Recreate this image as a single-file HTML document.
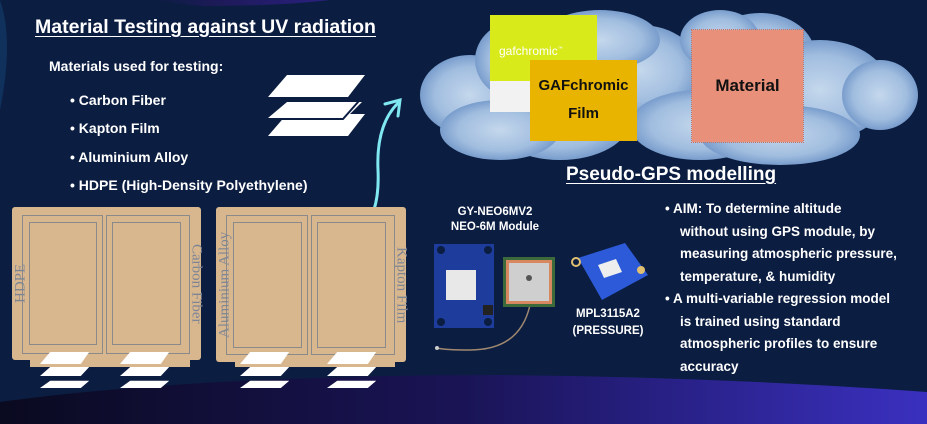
<!DOCTYPE html>
<html><head><meta charset="utf-8"><style>
*{margin:0;padding:0;box-sizing:border-box}
body{width:927px;height:424px;overflow:hidden;background:#0b1d41;font-family:"Liberation Sans",sans-serif;color:#fff;position:relative}
.a{position:absolute;white-space:nowrap}
.b{font-weight:bold}
.box{position:absolute;background:#d8b78f;border-radius:3px}
.fr{position:absolute;border:1.5px solid #8a8a8a}
.vt{position:absolute;color:#7d8594;font-family:"Liberation Serif",serif;font-size:15px;white-space:nowrap;writing-mode:vertical-rl;display:flex;align-items:center;justify-content:center}
</style></head><body>
<svg class="a" style="left:0;top:0" width="927" height="424">
<defs>
<linearGradient id="bot" x1="0" x2="1"><stop offset="0" stop-color="#0a0a20"/><stop offset="0.5" stop-color="#1a1456"/><stop offset="1" stop-color="#3a30c0"/></linearGradient>
<linearGradient id="top" x1="0" x2="1"><stop offset="0" stop-color="#0b1d41"/><stop offset="0.4" stop-color="#1e1a5a"/><stop offset="1" stop-color="#2a2080"/></linearGradient>
<radialGradient id="cl" cx="0.5" cy="0.5" r="0.5"><stop offset="0" stop-color="#cfe2f6"/><stop offset="0.7" stop-color="#a9c6e8"/><stop offset="1" stop-color="#7fa4d4"/></radialGradient>
</defs>
<path d="M150 0 L330 0 Q280 6 200 6 Z" fill="url(#top)"/>
<path d="M0 0 Q14 40 0 110 L0 0Z" fill="#12406c" opacity="0.6"/>
<path d="M0 402 Q200 375 500 375 Q720 377 927 392 L927 424 L0 424Z" fill="url(#bot)"/>
<g fill="url(#cl)" opacity="0.95">
<ellipse cx="470" cy="95" rx="50" ry="40"/><ellipse cx="520" cy="60" rx="45" ry="40"/><ellipse cx="560" cy="120" rx="70" ry="40"/>
<ellipse cx="640" cy="70" rx="60" ry="45"/><ellipse cx="700" cy="125" rx="70" ry="35"/><ellipse cx="760" cy="55" rx="55" ry="42"/>
<ellipse cx="820" cy="90" rx="70" ry="50"/><ellipse cx="880" cy="95" rx="38" ry="35"/><ellipse cx="780" cy="135" rx="80" ry="30"/>
<ellipse cx="500" cy="130" rx="60" ry="30"/><ellipse cx="600" cy="40" rx="60" ry="30"/><ellipse cx="720" cy="40" rx="40" ry="30"/>
</g>
<path d="M360 232 Q380 215 378 170 Q376 125 398 103" stroke="#7fe8f0" stroke-width="3" fill="none" stroke-linecap="round"/>
<path d="M385 104 L400 100 L398 116" stroke="#7fe8f0" stroke-width="3" fill="none" stroke-linecap="round"/>
<g fill="#fff">
<polygon points="287,75 365,75 348,97 268,97"/>
<polygon points="287,102 362,102 346,118 268,118"/>
<polygon points="287,114 365,114 348,136 268,136"/>
</g>
<path d="M268 119 L343 119 L366 93" stroke="#0b1d41" stroke-width="2" fill="none"/>
<path d="M530 305 Q520 350 470 350 Q445 350 437 348" stroke="#a08870" stroke-width="1.5" fill="none"/>
<circle cx="437" cy="348" r="2" fill="#ccc"/>
<rect x="434" y="244" width="60" height="84" fill="#1e3c9c"/>
<rect x="446" y="270" width="30" height="30" fill="#e8e8e8"/>
<circle cx="441" cy="250" r="4" fill="#0b1d41"/><circle cx="488" cy="250" r="4" fill="#0b1d41"/><circle cx="441" cy="322" r="4" fill="#0b1d41"/><circle cx="488" cy="322" r="4" fill="#0b1d41"/>
<rect x="483" y="305" width="10" height="10" fill="#222"/>
<rect x="503" y="257" width="52" height="50" fill="#3c6a3a"/>
<rect x="506" y="260" width="46" height="44" fill="#d88860"/>
<rect x="509" y="263" width="40" height="38" fill="#cfcfcf"/>
<circle cx="529" cy="278" r="3" fill="#555"/>
<polygon points="578,258 625,243 648,275 602,300" fill="#2d5ad8"/>
<polygon points="598,265 616,259 622,272 604,278" fill="#eee"/>
<circle cx="576" cy="262" r="5" fill="#e0c070"/><circle cx="576" cy="262" r="3" fill="#0b1d41"/>
<circle cx="641" cy="270" r="4" fill="#e0c070"/>
</svg>

<div class="a b" style="left:35px;top:16px;font-size:19.5px;text-decoration:underline;text-underline-offset:3px">Material Testing against UV radiation</div>
<div class="a b" style="left:49px;top:58px;font-size:14px">Materials used for testing:</div>
<div class="a b" style="left:70px;top:86px;font-size:14px;line-height:28.3px">• Carbon Fiber<br>• Kapton Film<br>• Aluminium Alloy<br>• HDPE (High-Density Polyethylene)</div>

<div class="box" style="left:12px;top:207px;width:189px;height:153px"></div>
<div class="box" style="left:30px;top:355px;width:160px;height:12px;border-radius:0"></div>
<div class="fr" style="left:22px;top:215px;width:81px;height:139px"></div>
<div class="fr" style="left:29px;top:222px;width:68px;height:123px"></div>
<div class="fr" style="left:106px;top:215px;width:84px;height:139px"></div>
<div class="fr" style="left:112px;top:222px;width:69px;height:123px"></div>
<div class="vt" style="left:12px;top:222px;width:18px;height:123px;transform:rotate(180deg)">HDPE</div>
<div class="vt" style="left:189px;top:222px;width:14px;height:123px">Carbon Fiber</div>

<div class="box" style="left:216px;top:207px;width:190px;height:155px"></div>
<div class="box" style="left:235px;top:357px;width:160px;height:10px;border-radius:0"></div>
<div class="fr" style="left:226px;top:215px;width:82px;height:140px"></div>
<div class="fr" style="left:233px;top:222px;width:69px;height:126px"></div>
<div class="fr" style="left:311px;top:215px;width:84px;height:140px"></div>
<div class="fr" style="left:317px;top:222px;width:69px;height:126px"></div>
<div class="vt" style="left:217px;top:222px;width:16px;height:126px;transform:rotate(180deg)">Aluminium Alloy</div>
<div class="vt" style="left:394px;top:222px;width:14px;height:126px">Kapton Film</div>

<svg class="a" style="left:0;top:0" width="927" height="424">
<g fill="#fff">
<g transform="translate(40,352) scale(0.6)"><polygon points="17,0 82,0 68,20 0,20"/><polygon points="17,25 82,25 68,40 0,40"/><polygon points="17,48 82,48 68,60 0,60"/></g>
<g transform="translate(120,352) scale(0.6)"><polygon points="17,0 82,0 68,20 0,20"/><polygon points="17,25 82,25 68,40 0,40"/><polygon points="17,48 82,48 68,60 0,60"/></g>
<g transform="translate(240,352) scale(0.6)"><polygon points="17,0 82,0 68,20 0,20"/><polygon points="17,25 82,25 68,40 0,40"/><polygon points="17,48 82,48 68,60 0,60"/></g>
<g transform="translate(327,352) scale(0.6)"><polygon points="17,0 82,0 68,20 0,20"/><polygon points="17,25 82,25 68,40 0,40"/><polygon points="17,48 82,48 68,60 0,60"/></g>
</g>
</svg>

<div class="a" style="left:490px;top:15px;width:107px;height:97px;background:linear-gradient(#d8ea1a 0 68%,#f2f2f2 68%)"></div>
<div class="a" style="left:499px;top:44px;font-size:12px;color:#fff">gafchromic<sup style="font-size:5px">™</sup></div>
<div class="a b" style="left:530px;top:60px;width:107px;height:81px;background:#e8b400;color:#111;font-size:15px;text-align:center;line-height:28px;padding-top:12px;white-space:normal">GAFchromic<br>Film</div>
<div class="a b" style="left:692px;top:30px;width:111px;height:112px;background:#e8907a;color:#111;font-size:17px;text-align:center;line-height:112px;outline:1px dotted #c87060">Material</div>

<div class="a b" style="left:566px;top:164px;font-size:19px;text-decoration:underline;text-underline-offset:3px">Pseudo-GPS modelling</div>
<div class="a b" style="left:665px;top:198px;font-size:13.5px;line-height:22.5px;white-space:normal;width:262px">
<div style="padding-left:15px;text-indent:-15px">• AIM: To determine altitude<br>without using GPS module, by<br>measuring atmospheric pressure,<br>temperature, &amp; humidity</div>
<div style="padding-left:15px;text-indent:-15px">• A multi-variable regression model<br>is trained using standard<br>atmospheric profiles to ensure<br>accuracy</div>
</div>

<div class="a b" style="left:430px;top:205px;width:130px;text-align:center;font-size:11.5px;line-height:15px">GY-NEO6MV2<br>NEO-6M Module</div>
<div class="a b" style="left:560px;top:306px;width:96px;text-align:center;font-size:11.5px;line-height:17px">MPL3115A2<br>(PRESSURE)</div>
</body></html>
